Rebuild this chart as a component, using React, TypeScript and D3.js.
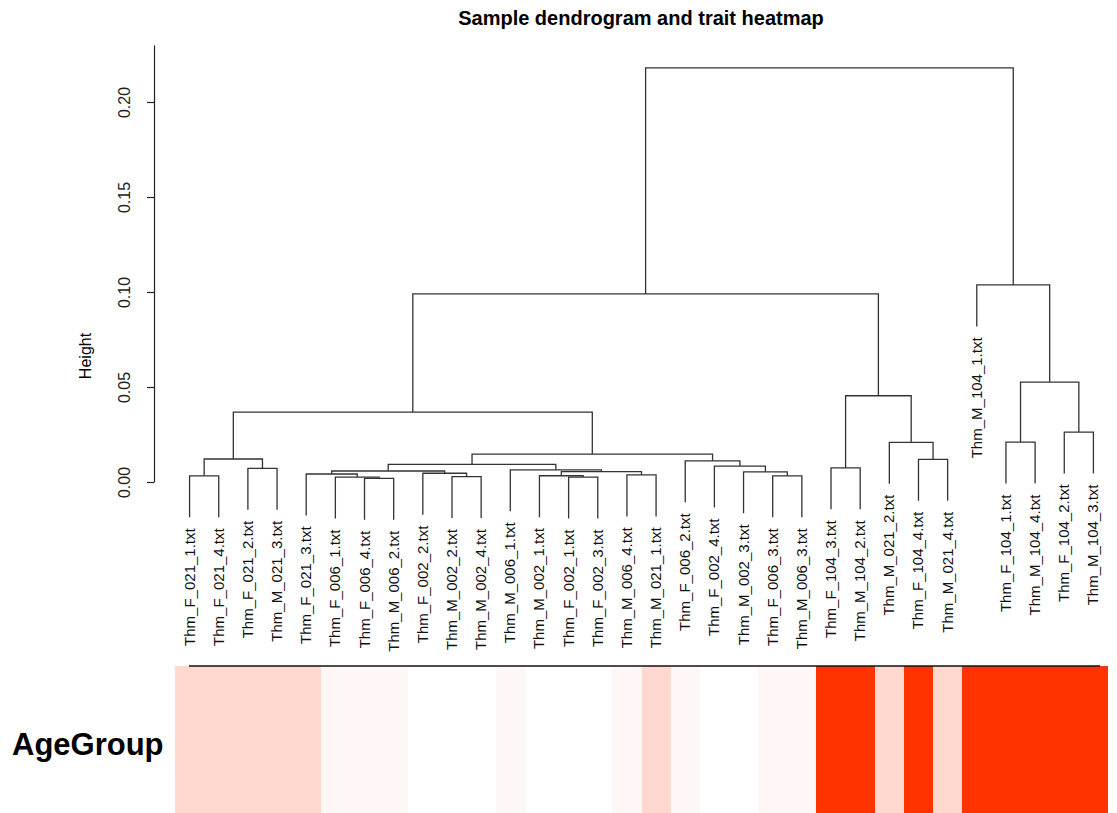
import React, { useEffect, useRef } from 'react';
import * as d3 from 'd3';

// leaves in dendrogram order
const leafLabels = [
  'Thm_F_021_1.txt', 'Thm_F_021_4.txt', 'Thm_F_021_2.txt', 'Thm_M_021_3.txt',
  'Thm_F_021_3.txt', 'Thm_F_006_1.txt', 'Thm_F_006_4.txt', 'Thm_M_006_2.txt',
  'Thm_F_002_2.txt', 'Thm_M_002_2.txt', 'Thm_M_002_4.txt', 'Thm_M_006_1.txt',
  'Thm_M_002_1.txt', 'Thm_F_002_1.txt', 'Thm_F_002_3.txt', 'Thm_M_006_4.txt',
  'Thm_M_021_1.txt', 'Thm_F_006_2.txt', 'Thm_F_002_4.txt', 'Thm_M_002_3.txt',
  'Thm_F_006_3.txt', 'Thm_M_006_3.txt', 'Thm_F_104_3.txt', 'Thm_M_104_2.txt',
  'Thm_M_021_2.txt', 'Thm_F_104_4.txt', 'Thm_M_021_4.txt', 'Thm_M_104_1.txt',
  'Thm_F_104_1.txt', 'Thm_M_104_4.txt', 'Thm_F_104_2.txt', 'Thm_M_104_3.txt'
];

// trait value per leaf (same order)
const ageGroup = [
  21, 21, 21, 21, 21, 6, 6, 6, 2, 2, 2, 6, 2, 2, 2, 6,
  21, 6, 2, 2, 6, 6, 104, 104, 21, 104, 21, 104, 104, 104, 104, 104
];

// hclust style merges: negative = leaf (1-based), positive = earlier merge
const merges: [number, number, number][] = [
  [-1, -2, 0.0032],
  [-3, -4, 0.0072],
  [1, 2, 0.0121],
  [-7, -8, 0.0019],
  [-6, 4, 0.0026],
  [-5, 5, 0.0042],
  [-10, -11, 0.0028],
  [-9, 7, 0.0046],
  [6, 8, 0.0058],
  [-14, -15, 0.0026],
  [-13, 10, 0.0033],
  [-16, -17, 0.0037],
  [11, 12, 0.0055],
  [-12, 13, 0.0064],
  [9, 14, 0.0093],
  [-21, -22, 0.0032],
  [-20, 16, 0.0053],
  [-19, 17, 0.0084],
  [-18, 18, 0.0111],
  [15, 19, 0.0147],
  [3, 20, 0.0368],
  [-23, -24, 0.0074],
  [-26, -27, 0.0119],
  [-25, 23, 0.0209],
  [22, 24, 0.0454],
  [21, 25, 0.099],
  [-29, -30, 0.021],
  [-31, -32, 0.0263],
  [27, 28, 0.0526],
  [-28, 29, 0.1037],
  [26, 30, 0.218]
];

const heightTicks = [0, 0.05, 0.1, 0.15, 0.2];

const FONT = '"Liberation Sans", Arial, sans-serif';

type TreeNode = { name: string; height: number; children?: TreeNode[] };

function buildTree(): TreeNode {
  const made: TreeNode[] = [];
  const get = (i: number): TreeNode =>
    i < 0 ? { name: leafLabels[-i - 1], height: 0 } : made[i - 1];
  merges.forEach(([a, b, h], k) => {
    made.push({ name: 'm' + (k + 1), height: h, children: [get(a), get(b)] });
  });
  return made[made.length - 1];
}

export default function App() {
  const ref = useRef<SVGSVGElement>(null);

  useEffect(() => {
    const width = 1117, height = 813;
    const svg = d3.select(ref.current);
    svg.selectAll('*').remove();

    const x = d3.scaleBand<string>().domain(leafLabels).range([175, 1108]).padding(0);
    const y = d3.scaleLinear().domain([0, 0.23]).range([482, 45]);
    const color = d3.scaleLinear<string>().domain([2, 104]).range(['#ffffff', '#ff3300']);

    const maxH = d3.max(merges, (m) => m[2]) as number;
    const hang = 0.1 * maxH;

    const root = d3.hierarchy<TreeNode>(buildTree());
    const xPos = new Map<d3.HierarchyNode<TreeNode>, number>();
    root.eachAfter((n) => {
      if (!n.children) xPos.set(n, (x(n.data.name) as number) + x.bandwidth() / 2);
      else xPos.set(n, d3.mean(n.children, (c) => xPos.get(c)!) as number);
    });

    // trait heatmap row
    svg.append('g').attr('shape-rendering', 'crispEdges').selectAll('rect')
      .data(leafLabels)
      .enter()
      .append('rect')
      .attr('x', (d) => Math.round(x(d) as number))
      .attr('y', 666)
      .attr('width', (d) => Math.round((x(d) as number) + x.bandwidth()) - Math.round(x(d) as number))
      .attr('height', height - 666)
      .attr('fill', (d, i) => color(ageGroup[i]));

    svg.append('line')
      .attr('x1', 189).attr('x2', 1100)
      .attr('y1', 666).attr('y2', 666)
      .attr('stroke', '#111').attr('stroke-width', 1.5);

    // title
    svg.append('text')
      .attr('x', 641).attr('y', 25)
      .attr('text-anchor', 'middle')
      .style('font', `bold 20px ${FONT}`)
      .text('Sample dendrogram and trait heatmap');

    // y axis
    const axis = svg.append('g')
      .attr('transform', 'translate(154,0)')
      .call(d3.axisLeft(y).tickValues(heightTicks).tickSize(7).tickSizeOuter(0));
    axis.selectAll('path, line').attr('stroke', '#222').attr('stroke-width', 1.2);
    axis.selectAll('text').remove();
    axis.selectAll('.tick').append('text')
      .attr('transform', 'translate(-24,0) rotate(-90)')
      .attr('text-anchor', 'middle')
      .attr('fill', '#222')
      .style('font', `16px ${FONT}`)
      .text((d: any) => d3.format('.2f')(d));

    svg.append('text')
      .attr('transform', 'translate(91,356) rotate(-90)')
      .attr('text-anchor', 'middle')
      .style('font', `16px ${FONT}`)
      .text('Height');

    // dendrogram branches
    const g = svg.append('g')
      .attr('fill', 'none')
      .attr('stroke', '#333')
      .attr('stroke-width', 1.3);
    const top = (c: d3.HierarchyNode<TreeNode>, parentH: number) =>
      c.children ? y(c.data.height) : y(parentH - hang);

    root.descendants().filter((n) => n.children).forEach((n) => {
      const [a, b] = n.children!;
      const yp = y(n.data.height);
      g.append('path').attr('d',
        `M${xPos.get(a)},${top(a, n.data.height)}V${yp}H${xPos.get(b)}V${top(b, n.data.height)}`);
    });

    // leaf labels
    root.leaves().forEach((leaf) => {
      const ph = leaf.parent!.data.height;
      svg.append('text')
        .attr('transform', `translate(${xPos.get(leaf)! + 5},${y(ph - hang) + 11}) rotate(-90)`)
        .attr('text-anchor', 'end')
        .attr('fill', '#111')
        .style('font', `15px ${FONT}`)
        .text(leaf.data.name);
    });

    svg.append('text')
      .attr('x', 12).attr('y', 755)
      .style('font', `bold 31px ${FONT}`)
      .text('AgeGroup');

    svg.attr('width', width).attr('height', height);
  }, []);

  return (
    <svg ref={ref} width={1117} height={813}
      style={{ position: 'absolute', left: 0, top: 0, background: '#fff' }} />
  );
}
